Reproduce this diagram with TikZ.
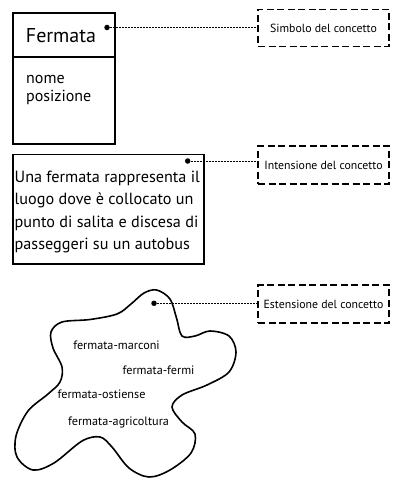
\documentclass[tikz,border=0pt]{standalone}
\usepackage{fontspec}
\setmainfont{PT Sans}
\begin{document}
\begin{tikzpicture}[x=1pt,y=-1pt,
  box/.style={draw,line width=1.8pt},
  tagbox/.style={draw,line width=1.8pt,dash pattern=on 7pt off 3.5pt,minimum width=131pt,inner sep=0pt,font=\fontsize{11.8}{13}\selectfont},
  dotpt/.style={circle,fill,inner sep=0pt,minimum size=5.5pt},
  link/.style={line width=0.6pt,dash pattern=on 2pt off 1pt},
  inst/.style={font=\fontsize{12.2}{14}\selectfont,inner sep=0pt}]
\useasboundingbox (0,0) rectangle (400,500);
% UML symbol
\draw[box] (13,13) rectangle (115,144);
\draw[box] (13,57) -- (115,57);
\node[font=\fontsize{20}{24}\selectfont,inner sep=0pt] (fermata) at (61,35.5) {Fermata};
\node[font=\fontsize{16}{18.5}\selectfont,anchor=north west,align=left,inner sep=0pt] (attr) at (26,75) {nome\\posizione};
\node[dotpt] (d1) at (107,27.5) {};
\node[tagbox,minimum height=37pt] (s1) at (323.5,28) {Simbolo del concetto};
\draw[link] (d1.center) -- (d1.center -| s1.west);
% intension
\draw[box] (13,154.5) rectangle (204,264);
\node[font=\fontsize{16.2}{22.3}\selectfont,anchor=north west,align=left,inner sep=0pt] (desc) at (14.5,171) {Una fermata rappresenta il\\luogo dove è collocato un\\punto di salita e discesa di\\passeggeri su un autobus};
\node[dotpt] (d2) at (187.7,161) {};
\node[tagbox,minimum height=38pt] (s2) at (323.5,165) {Intensione del concetto};
\draw[link] (d2.center) -- (d2.center -| s2.west);
% extension
\draw[line width=1.6pt] plot[smooth cycle,tension=0.55] coordinates {
 (156.7,290) (170,299) (176.5,318) (182,336) (195,336) (210,331) (229,336)
 (236,352) (229,372) (207,385) (182,395) (172,407) (182,422) (195,434)
 (191,453) (170,470) (149,477) (129,468) (112,447) (100,437) (82,441)
 (54,463) (33,470) (17,457) (16,436) (28,411) (48,394) (60,382) (62,367)
 (53,348) (51,332) (62,322) (90,319.5) (117,314) (131,304) (144,293)};
\node[dotpt] (d3) at (154,303.3) {};
\node[tagbox,minimum height=37.5pt] (s3) at (323.5,304) {Estensione del concetto};
\draw[link] (d3.center) -- (d3.center -| s3.west);
\node[inst] (i1) at (116.5,345) {fermata-marconi};
\node[inst] (i2) at (158.5,370) {fermata-fermi};
\node[inst] (i3) at (101.5,394.5) {fermata-ostiense};
\node[inst] (i4) at (118.5,422.5) {fermata-agricoltura};
\end{tikzpicture}
\end{document}
